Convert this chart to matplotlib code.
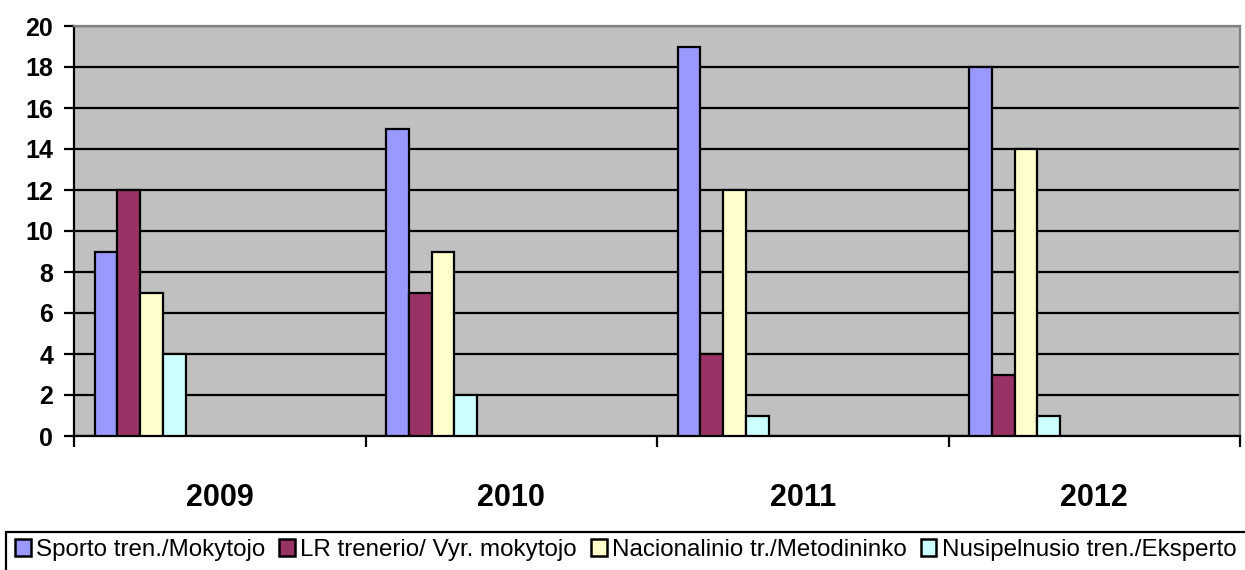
import matplotlib
matplotlib.use("Agg")
import matplotlib.pyplot as plt
from matplotlib.patches import Rectangle
import numpy as np

years = ["2009", "2010", "2011", "2012"]
series_names = ["Sporto tren./Mokytojo", "LR trenerio/ Vyr. mokytojo",
                "Nacionalinio tr./Metodininko", "Nusipelnusio tren./Eksperto"]
sporto = [9, 15, 19, 18]
lr = [12, 7, 4, 3]
nacionalinio = [7, 9, 12, 14]
nusipelnusio = [4, 2, 1, 1]
colors = ["#9999FF", "#993366", "#FFFFCC", "#CCFFFF"]

plt.rcParams['font.family'] = ['Liberation Sans', 'DejaVu Sans']

W, H = 1245, 570
fig = plt.figure(figsize=(W / 100, H / 100), dpi=100)
L, R, T, B = 74, 1240, 26, 436
ax = fig.add_axes([L / W, 1 - B / H, (R - L) / W, (B - T) / H])
ax.set_facecolor("#C0C0C0")

cat_px = (R - L) / 4
bw = 22.8 / cat_px
off = 20.5 / cat_px
x = np.arange(len(years))
data = [sporto, lr, nacionalinio, nusipelnusio]
handles = []
for i, (vals, c) in enumerate(zip(data, colors)):
    h = ax.bar(x + off + i * bw, vals, width=bw, align='edge', color=c,
               edgecolor='black', linewidth=1.6, zorder=3, label=series_names[i])
    handles.append(h)

ax.set_xlim(0, 4)
ax.set_ylim(0, 20)
ax.set_yticks(range(0, 21, 2))
ax.yaxis.grid(True, color='black', linewidth=1.6, zorder=1)
ax.set_axisbelow(True)
ax.tick_params(axis='y', length=7, width=1.6, pad=8, labelsize=18)
for lab in ax.get_yticklabels():
    lab.set_fontweight('bold')

ax.set_xticks(x + 0.5)
ax.set_xticklabels(years, fontsize=22, fontweight='bold')
ax.tick_params(axis='x', which='major', length=0, pad=34)
ax.set_xticks(range(0, 5), minor=True)
ax.tick_params(axis='x', which='minor', length=8, width=1.6)

for s in ['left', 'bottom']:
    ax.spines[s].set_color('black')
    ax.spines[s].set_linewidth(1.6)
for s in ['top', 'right']:
    ax.spines[s].set_color('#808080')
    ax.spines[s].set_linewidth(1.6)
ax.spines['top'].set_zorder(4)

# legend frame
fig.patches.append(Rectangle((6 / W, -0.1), 1.2, (1 - 532 / H) + 0.1,
                             transform=fig.transFigure, facecolor='white',
                             edgecolor='black', linewidth=1.6, zorder=0))
leg = fig.legend(handles=handles, loc='center left',
                 bbox_to_anchor=(15 / W, 1 - 550 / H), ncol=4, frameon=False,
                 fontsize=17.4, handlelength=0.65, handleheight=0.65,
                 handletextpad=0.22, columnspacing=0.58, borderaxespad=0,
                 borderpad=0)
for p in leg.get_patches():
    p.set_linewidth(1.8)

fig.savefig("out.png", dpi=100)
